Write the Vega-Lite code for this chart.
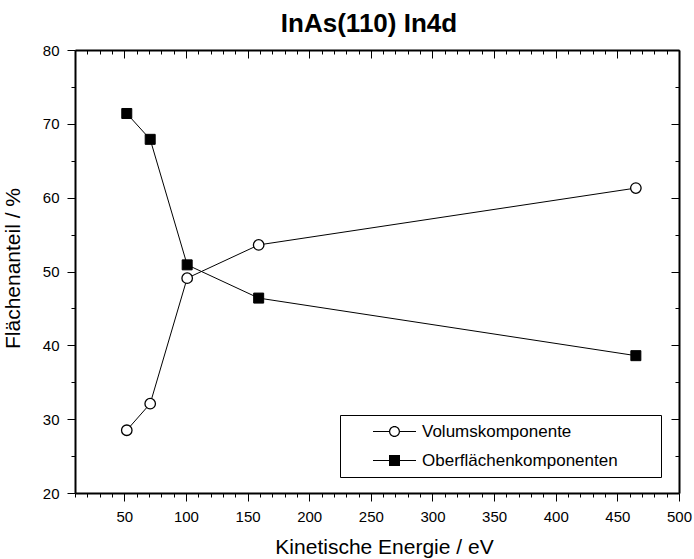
{
  "$schema": "https://vega.github.io/schema/vega-lite/v6.json",
  "width": 604,
  "height": 443,
  "autosize": {"type": "none"},
  "padding": {"left": 75, "top": 50, "right": 15, "bottom": 66},
  "background": "white",
  "config": {
    "view": {"stroke": null},
    "font": "Liberation Sans",
    "axis": {"grid": false, "domainColor": "black", "domainWidth": 2, "tickColor": "black", "tickWidth": 1, "labelColor": "black", "titleColor": "black", "labelFont": "Liberation Sans", "titleFont": "Liberation Sans", "labelFontSize": 15, "titleFontSize": 21, "titleFontWeight": "normal", "labelFlush": false, "labelOverlap": false, "labelBound": false}
  },
  "title": {"text": "InAs(110) In4d", "font": "Liberation Sans", "fontSize": 26, "fontWeight": "bold", "color": "black", "anchor": "middle", "frame": "group", "baseline": "alphabetic", "offset": 17, "dx": -8, "dy": 32},
  "data": {"values": [
    {"series": "Volumskomponente", "energie": 52, "anteil": 28.5},
    {"series": "Volumskomponente", "energie": 71, "anteil": 32.1},
    {"series": "Volumskomponente", "energie": 101, "anteil": 49.1},
    {"series": "Volumskomponente", "energie": 159, "anteil": 53.6},
    {"series": "Volumskomponente", "energie": 465, "anteil": 61.3},
    {"series": "Oberflächenkomponenten", "energie": 52, "anteil": 71.4},
    {"series": "Oberflächenkomponenten", "energie": 71, "anteil": 67.9},
    {"series": "Oberflächenkomponenten", "energie": 101, "anteil": 50.9},
    {"series": "Oberflächenkomponenten", "energie": 159, "anteil": 46.4},
    {"series": "Oberflächenkomponenten", "energie": 465, "anteil": 38.6}
  ]},
  "resolve": {"axis": {"x": "independent", "y": "independent"}},
  "layer": [
    {
      "mark": {"type": "line", "color": "black", "strokeWidth": 1},
      "encoding": {
        "x": {"field": "energie", "type": "quantitative", "scale": {"domain": [10, 500], "nice": false, "zero": false},
          "axis": {"orient": "bottom", "title": "Kinetische Energie / eV", "values": [10,20,30,40,50,60,70,80,90,100,110,120,130,140,150,160,170,180,190,200,210,220,230,240,250,260,270,280,290,300,310,320,330,340,350,360,370,380,390,400,410,420,430,440,450,460,470,480,490,500],
            "tickSize": {"condition": {"test": "datum.value % 50 === 0", "value": 8}, "value": 4},
            "labelExpr": "datum.value % 50 === 0 ? datum.label : ''", "labelPadding": 8,
            "titleBaseline": "alphabetic", "titleY": 60, "titleX": 309, "titleAlign": "center"}},
        "y": {"field": "anteil", "type": "quantitative", "scale": {"domain": [20, 80], "nice": false, "zero": false},
          "axis": {"orient": "left", "title": "Flächenanteil / %", "values": [20,25,30,35,40,45,50,55,60,65,70,75,80],
            "tickSize": {"condition": {"test": "datum.value % 10 === 0", "value": 8}, "value": 4},
            "labelExpr": "datum.value % 10 === 0 ? datum.label : ''", "labelPadding": 8,
            "titleBaseline": "alphabetic", "titleX": -56, "titleY": 218, "titleAlign": "center", "titleAngle": 270}},
        "detail": {"field": "series"}
      }
    },
    {
      "transform": [{"filter": "datum.series === 'Volumskomponente'"}],
      "mark": {"type": "point", "shape": "circle", "filled": true, "fill": "white", "stroke": "black", "strokeWidth": 1.3, "size": 110, "opacity": 1},
      "encoding": {
        "x": {"field": "energie", "type": "quantitative",
          "axis": {"orient": "top", "title": null, "labels": false, "values": [10,20,30,40,50,60,70,80,90,100,110,120,130,140,150,160,170,180,190,200,210,220,230,240,250,260,270,280,290,300,310,320,330,340,350,360,370,380,390,400,410,420,430,440,450,460,470,480,490,500],
            "tickSize": {"condition": {"test": "datum.value % 50 === 0", "value": -8}, "value": -4}}},
        "y": {"field": "anteil", "type": "quantitative",
          "axis": {"orient": "right", "title": null, "labels": false, "values": [20,25,30,35,40,45,50,55,60,65,70,75,80],
            "tickSize": {"condition": {"test": "datum.value % 10 === 0", "value": -8}, "value": -4}}}
      }
    },
    {
      "transform": [{"filter": "datum.series === 'Oberflächenkomponenten'"}],
      "mark": {"type": "point", "shape": "square", "filled": true, "fill": "black", "stroke": "black", "strokeWidth": 1, "size": 100, "opacity": 1},
      "encoding": {
        "x": {"field": "energie", "type": "quantitative", "axis": null},
        "y": {"field": "anteil", "type": "quantitative", "axis": null}
      }
    },
    {
      "mark": {"type": "point", "filled": true, "color": "black", "size": 100, "opacity": 0},
      "encoding": {
        "x": {"field": "energie", "type": "quantitative", "axis": null},
        "y": {"field": "anteil", "type": "quantitative", "axis": null},
        "shape": {"field": "series", "type": "nominal",
          "scale": {"domain": ["Volumskomponente", "Oberflächenkomponenten"],
            "range": ["M-4.3,-0.1L-1.1,-0.1L-1.1,0.1L-4.3,0.1Z M1.1,-0.1L4.3,-0.1L4.3,0.1L1.1,0.1Z M-1.1,0A1.1,1.1 0 1,1 1.1,0A1.1,1.1 0 1,1 -1.1,0Z M-0.86,0A0.86,0.86 0 1,0 0.86,0A0.86,0.86 0 1,0 -0.86,0Z M51.6,0",
                      "M-4.3,-0.1L-1.1,-0.1L-1.1,0.1L-4.3,0.1Z M1.1,-0.1L4.3,-0.1L4.3,0.1L1.1,0.1Z M-1.1,-1.1L1.1,-1.1L1.1,1.1L-1.1,1.1Z M51.6,0"]},
          "legend": {"orient": "none", "legendX": 265, "legendY": 365, "title": null, "padding": 8,
            "strokeColor": "black", "fillColor": "white",
            "symbolSize": 100, "symbolStrokeWidth": 0, "symbolFillColor": "black", "symbolOpacity": 1,
            "symbolOffset": 38, "labelOffset": 19, "labelLimit": 0,
            "labelFont": "Liberation Sans", "labelFontSize": 17, "labelColor": "black", "rowPadding": 11}}
      }
    }
  ]
}
